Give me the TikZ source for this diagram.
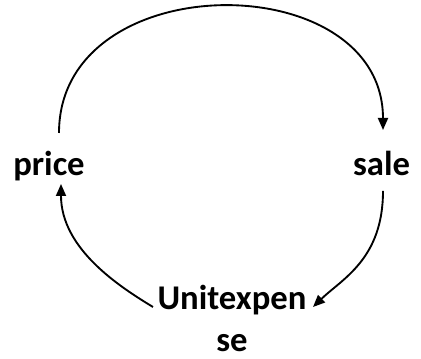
\documentclass[tikz,border=0pt]{standalone}
\usepackage{fontspec}
\setmainfont{Carlito}
\usepackage{tikz}
\usetikzlibrary{arrows.meta}

\begin{document}
\begin{tikzpicture}[x=0.75pt, y=0.75pt,
  var/.style={inner sep=0pt, font=\fontsize{26}{31.5}\selectfont\bfseries, align=center},
  link/.style={line width=1.4pt, -{Triangle[length=9pt, width=7.5pt]}}]
  \useasboundingbox (0, 0) rectangle (421, 359);
  % Variables
  \node[var, anchor=base] (price) at (49, 183) {price};
  \node[var, anchor=base] (sale) at (381.5, 183) {sale};
  \node[var, anchor=north] (unit) at (232, 74) {Unitexpen\\se};
  % Loop
  \draw[link] ([shift={(10, 43)}]price.base)
    .. controls (59, 394) and (383, 394) .. ([shift={(1.5, 46)}]sale.base);
  \draw[link] ([shift={(1.5, -15)}]sale.base)
    .. controls (383, 100) and (342, 80) .. ([shift={(81, -22)}]unit.north);
  \draw[link] ([shift={(-79, -22)}]unit.north)
    .. controls (120, 72) and (61, 110) .. ([shift={(12, -8)}]price.base);
\end{tikzpicture}
\end{document}
